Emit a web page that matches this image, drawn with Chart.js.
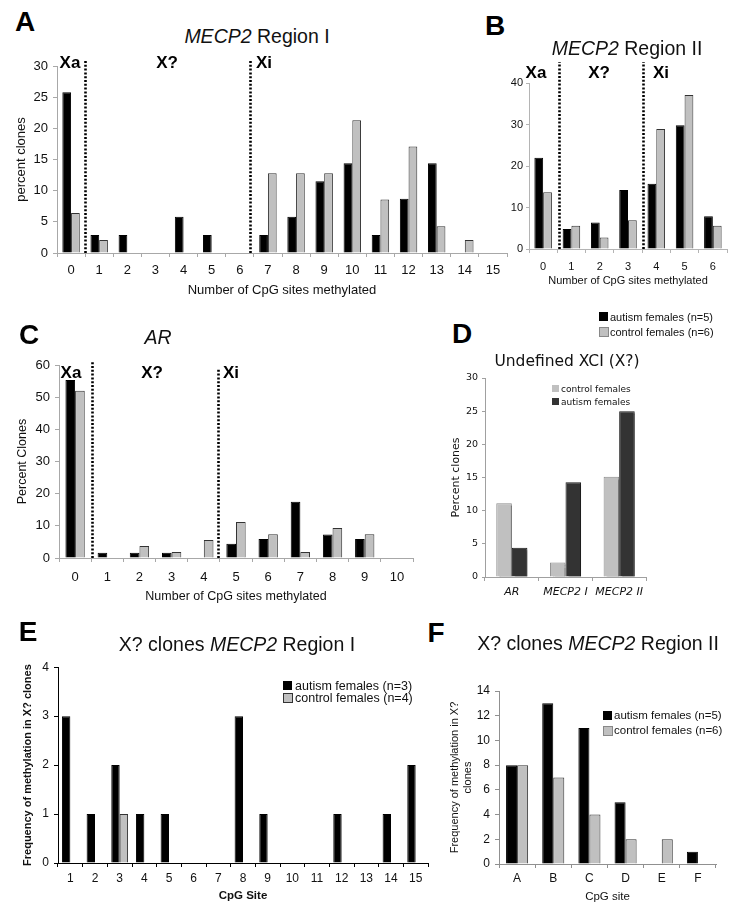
<!DOCTYPE html>
<html>
<head>
<meta charset="utf-8">
<script src="https://cdn.jsdelivr.net/npm/chart.js@4.4.1/dist/chart.umd.min.js"></script>
<style>
  html,body{margin:0;padding:0;background:#fff;}
  body{width:734px;height:912px;position:relative;overflow:hidden;font-family:"Liberation Sans",Arial,sans-serif;color:#111;}
  canvas{position:absolute;}
  .t{position:absolute;white-space:nowrap;line-height:1;transform:translate(-50%,-50%);}
  .l{position:absolute;white-space:nowrap;line-height:1;transform:translateY(-50%);}
  .letter{font-weight:bold;font-size:28px;color:#000;}
  .zone{font-weight:bold;font-size:17px;color:#000;}
  .ttl{font-size:19.5px;}
  .box{position:absolute;}
  .dj{font-family:"DejaVu Sans",Verdana,sans-serif;}
</style>
</head>
<body>
<canvas id="cA" width="520" height="250" style="left:0px;top:50px"></canvas>
<canvas id="cB" width="254" height="245" style="left:480px;top:55px"></canvas>
<canvas id="cC" width="420" height="260" style="left:0px;top:345px"></canvas>
<canvas id="cD" width="230" height="245" style="left:430px;top:365px"></canvas>
<canvas id="cE" width="440" height="257" style="left:0px;top:655px"></canvas>
<canvas id="cF" width="300" height="242" style="left:430px;top:670px"></canvas>

<div class="t letter" style="left:25px;top:22px">A</div>
<div class="t letter" style="left:495px;top:26px">B</div>
<div class="t letter" style="left:29px;top:335px">C</div>
<div class="t letter" style="left:462px;top:334px">D</div>
<div class="t letter" style="left:28px;top:632px">E</div>
<div class="t letter" style="left:436px;top:633px">F</div>

<div class="t ttl" style="left:257px;top:37px"><i>MECP2</i> Region I</div>
<div class="t ttl" style="left:627px;top:49px"><i>MECP2</i> Region II</div>
<div class="t ttl" style="left:158px;top:338px"><i>AR</i></div>
<div class="t dj" style="left:567px;top:362px;font-size:15.5px">Undefined XCI (X?)</div>
<div class="t ttl" style="left:237px;top:645px">X? clones <i>MECP2</i> Region I</div>
<div class="t ttl" style="left:598px;top:644px">X? clones <i>MECP2</i> Region II</div>

<div class="t zone" style="left:70px;top:62px">Xa</div>
<div class="t zone" style="left:167px;top:62px">X?</div>
<div class="t zone" style="left:264px;top:62px">Xi</div>
<div class="t zone" style="left:536px;top:72px">Xa</div>
<div class="t zone" style="left:599px;top:72px">X?</div>
<div class="t zone" style="left:661px;top:72px">Xi</div>
<div class="t zone" style="left:71px;top:372px">Xa</div>
<div class="t zone" style="left:152px;top:372px">X?</div>
<div class="t zone" style="left:231px;top:372px">Xi</div>

<div class="box" style="left:599px;top:312px;width:9px;height:9px;background:#000"></div>
<div class="l" style="left:610px;top:317px;font-size:11px">autism females (n=5)</div>
<div class="box" style="left:599px;top:327px;width:8px;height:8px;background:#c0c0c0;border:1px solid #888"></div>
<div class="l" style="left:610px;top:332px;font-size:11px">control females (n=6)</div>

<div class="box" style="left:552px;top:385px;width:7px;height:7px;background:#c0c0c0"></div>
<div class="l dj" style="left:561px;top:389px;font-size:9px">control females</div>
<div class="box" style="left:552px;top:398px;width:7px;height:7px;background:#333"></div>
<div class="l dj" style="left:561px;top:402px;font-size:9px">autism females</div>

<div class="box" style="left:283px;top:681px;width:9px;height:9px;background:#000"></div>
<div class="l" style="left:295px;top:686px;font-size:12.5px">autism females (n=3)</div>
<div class="box" style="left:283px;top:693px;width:8px;height:8px;background:#c0c0c0;border:1px solid #333"></div>
<div class="l" style="left:295px;top:698px;font-size:12.5px">control females (n=4)</div>

<div class="box" style="left:603px;top:711px;width:9px;height:9px;background:#000"></div>
<div class="l" style="left:614px;top:716px;font-size:11.5px">autism females (n=5)</div>
<div class="box" style="left:603px;top:726px;width:8px;height:8px;background:#c0c0c0;border:1px solid #888"></div>
<div class="l" style="left:614px;top:731px;font-size:11.5px">control females (n=6)</div>

<script>
const A_sites = ['0','1','2','3','4','5','6','7','8','9','10','11','12','13','14','15'];
const A_autism = [25.8, 2.9, 2.9, 0, 5.8, 2.9, 0, 2.9, 5.8, 11.5, 14.4, 2.9, 8.7, 14.4, 0, 0];
const A_control = [6.4, 2.1, 0, 0, 0, 0, 0, 12.8, 12.8, 12.8, 21.3, 8.6, 17.1, 4.3, 2.1, 0];

const B_sites = ['0','1','2','3','4','5','6'];
const B_autism = [22.0, 4.8, 6.4, 14.2, 15.7, 29.8, 7.9];
const B_control = [13.7, 5.6, 2.8, 6.9, 28.9, 37.1, 5.6];

const C_sites = ['0','1','2','3','4','5','6','7','8','9','10'];
const C_autism = [55.3, 1.6, 1.6, 1.6, 0, 4.4, 5.9, 17.5, 7.3, 5.9, 0];
const C_control = [52.0, 0, 3.7, 1.9, 5.6, 11.2, 7.4, 1.9, 9.3, 7.4, 0];

const D_regions = ['AR', 'MECP2 I', 'MECP2 II'];
const D_control = [11.1, 2.2, 15.1];
const D_autism = [4.4, 14.3, 25.0];

const E_sites = ['1','2','3','4','5','6','7','8','9','10','11','12','13','14','15'];
const E_autism = [3, 1, 2, 1, 1, 0, 0, 3, 1, 0, 0, 1, 0, 1, 2];
const E_control = [0, 0, 1, 0, 0, 0, 0, 0, 0, 0, 0, 0, 0, 0, 0];

const F_sites = ['A','B','C','D','E','F'];
const F_autism = [8, 13, 11, 5, 0, 1];
const F_control = [8, 7, 4, 2, 2, 0];

const dividerPlugin = {
  id: 'dividers',
  afterDatasetsDraw(chart, args, opts) {
    if (!opts || !opts.at || !opts.at.length) return;
    const ctx = chart.ctx, x = chart.scales.x, y = chart.scales.y;
    const base = y.getPixelForValue(0);
    ctx.save();
    ctx.strokeStyle = '#000';
    ctx.lineWidth = 2.6;
    ctx.setLineDash([2, 1.8]);
    opts.at.forEach((v, i) => {
      const px = Math.round(x.getPixelForValue(v)) + 0.5;
      ctx.beginPath();
      ctx.moveTo(px, base);
      ctx.lineTo(px, chart.chartArea.top - (opts.ext[i] || 0));
      ctx.stroke();
    });
    ctx.restore();
  }
};
const shadowPlugin = {
  id: 'barShadow',
  beforeDatasetsDraw(chart, args, opts) {
    if (!opts || !opts.on) return;
    const c = chart.ctx;
    c.save();
    c.shadowColor = 'rgba(0,0,0,0.35)';
    c.shadowOffsetX = 3;
    c.shadowOffsetY = 2;
    c.shadowBlur = 1;
  },
  afterDatasetsDraw(chart, args, opts) {
    if (!opts || !opts.on) return;
    chart.ctx.restore();
  }
};

const ARIAL = '"Liberation Sans", Arial, sans-serif';
const DJ = '"DejaVu Sans", Verdana, sans-serif';

function build(id, labels, sets, o) {
  return new Chart(document.getElementById(id), {
    type: 'bar',
    data: { labels: labels, datasets: sets },
    options: {
      responsive: false, maintainAspectRatio: false, animation: false, devicePixelRatio: 1,
      events: [],
      layout: { padding: { left: 0, top: o.padT, right: o.padR, bottom: 0 } },
      plugins: {
        legend: { display: false }, tooltip: { enabled: false }, title: { display: false },
        dividers: { at: o.div || [], ext: o.ext || [] },
        barShadow: { on: !!o.shadow }
      },
      datasets: { bar: { categoryPercentage: o.cat, barPercentage: 1, borderWidth: 1, borderSkipped: 'start' } },
      scales: {
        x: {
          type: 'category', offset: true,
          grid: { display: true, offset: true, drawOnChartArea: false, drawTicks: true, tickLength: o.xtl, color: o.ax, lineWidth: 1 },
          border: { display: true, color: o.ax, width: 1 },
          ticks: { font: o.xf, color: '#111', padding: o.xtp, maxRotation: 0, minRotation: 0, autoSkip: false },
          title: { display: !!o.xt, text: o.xt, font: o.xtf, color: '#111', padding: { top: 0, bottom: o.xtpb || 0 } },
          afterFit: function (s) { s.height = o.xH; }
        },
        y: {
          min: 0, max: o.max,
          grid: { display: true, drawOnChartArea: false, drawTicks: true, tickLength: o.ytl, color: o.ax },
          border: { display: true, color: o.ax, width: 1 },
          ticks: { stepSize: o.step, font: o.yf, color: '#111', padding: o.ytp },
          title: { display: !!o.yt, text: o.yt, font: o.ytf, color: '#111', padding: { top: o.ytpt || 0, bottom: 0 } },
          afterFit: function (s) { s.width = o.yW; }
        }
      }
    },
    plugins: [dividerPlugin, shadowPlugin]
  });
}

function pair(aut, ctl, autLabel, ctlLabel, ctlBorder) {
  return [
    { label: autLabel, data: aut, backgroundColor: '#000', borderColor: '#000' },
    { label: ctlLabel, data: ctl, backgroundColor: '#c0c0c0', borderColor: ctlBorder || '#333' }
  ];
}

build('cA', A_sites, pair(A_autism, A_control, 'autism females (n=5)', 'control females (n=6)'), {
  padT: 16, padR: 13, yW: 57, xH: 47, cat: 0.62, max: 30, step: 5, ax: '#a8a8a8',
  xtl: 4, xtp: 6, ytl: 4, ytp: 5,
  xf: { family: ARIAL, size: 13 }, yf: { family: ARIAL, size: 13 },
  xt: 'Number of CpG sites methylated', xtf: { family: ARIAL, size: 13 }, xtpb: 2,
  yt: 'percent clones', ytf: { family: ARIAL, size: 13 }, ytpt: 14,
  div: [0.5, 6.37], ext: [5, 5]
});

build('cB', B_sites, pair(B_autism, B_control, 'autism females (n=5)', 'control females (n=6)'), {
  padT: 28, padR: 7, yW: 49, xH: 51, cat: 0.62, max: 40, step: 10, ax: '#b4b4b4',
  xtl: 4, xtp: 7, ytl: 3, ytp: 3,
  xf: { family: ARIAL, size: 11 }, yf: { family: ARIAL, size: 11 },
  xt: 'Number of CpG sites methylated', xtf: { family: ARIAL, size: 11 }, xtpb: 12,
  div: [0.57, 3.52], ext: [21, 21]
});

build('cC', C_sites, pair(C_autism, C_control, 'autism females (n=5)', 'control females (n=6)'), {
  padT: 20, padR: 7, yW: 59, xH: 47, cat: 0.6, max: 60, step: 10, ax: '#a8a8a8',
  xtl: 4, xtp: 7.5, ytl: 4, ytp: 5,
  xf: { family: ARIAL, size: 13 }, yf: { family: ARIAL, size: 13 },
  xt: 'Number of CpG sites methylated', xtf: { family: ARIAL, size: 12.5 }, xtpb: 0.5,
  yt: 'Percent Clones', ytf: { family: ARIAL, size: 12.5 }, ytpt: 15.5,
  div: [0.53, 4.43], ext: [4, -4]
});

build('cD', D_regions, [
  { label: 'control females', data: D_control, backgroundColor: '#c0c0c0', borderColor: '#8c8c8c' },
  { label: 'autism females', data: D_autism, backgroundColor: '#333333', borderColor: '#1a1a1a' }
], {
  padT: 13, padR: 14, yW: 55, xH: 33, cat: 0.58, max: 30, step: 5, ax: '#a0a0a0',
  xtl: 4, xtp: 5, ytl: 3, ytp: 4,
  xf: { family: DJ, size: 11, style: 'italic' }, yf: { family: DJ, size: 9.5 },
  yt: 'Percent clones', ytf: { family: DJ, size: 11 }, ytpt: 20,
  shadow: true
});

build('cE', E_sites, pair(E_autism, E_control, 'autism females (n=3)', 'control females (n=4)'), {
  padT: 12, padR: 12, yW: 58, xH: 49, cat: 0.68, max: 4, step: 1, ax: '#000',
  xtl: 4, xtp: 4, ytl: 4, ytp: 5,
  xf: { family: ARIAL, size: 12 }, yf: { family: ARIAL, size: 12 },
  xt: 'CpG Site', xtf: { family: ARIAL, size: 11.5, weight: 'bold' }, xtpb: 9,
  yt: 'Frequency of methylation in X? clones', ytf: { family: ARIAL, size: 11, weight: 'bold' }, ytpt: 21.4
});

build('cF', F_sites, pair(F_autism, F_control, 'autism females (n=5)', 'control females (n=6)'), {
  padT: 21, padR: 14, yW: 69, xH: 48, cat: 0.61, max: 14, step: 2, ax: '#909090',
  xtl: 4, xtp: 3, ytl: 4, ytp: 5,
  xf: { family: ARIAL, size: 12 }, yf: { family: ARIAL, size: 12 },
  xt: 'CpG site', xtf: { family: ARIAL, size: 11.5 }, xtpb: 8,
  yt: ['Frequency of methylation in X?', 'clones'], ytf: { family: ARIAL, size: 11 }, ytpt: 18.4
});
</script>
</body>
</html>
